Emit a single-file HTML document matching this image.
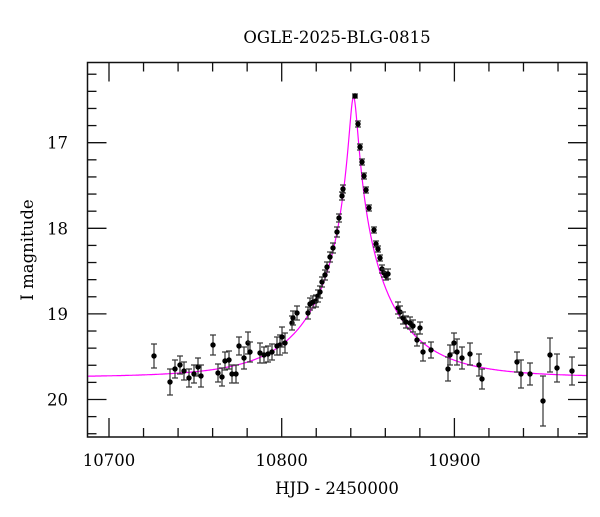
<!DOCTYPE html>
<html><head><meta charset="utf-8"><style>
body{margin:0;background:#fff}
svg text{font-family:"DejaVu Serif","Liberation Serif",serif;fill:#000}
</style></head><body>
<svg id="s" width="600" height="512" xmlns="http://www.w3.org/2000/svg">
<rect x="0" y="0" width="600" height="512" fill="#fff"/>
<text x="337" y="43" font-size="16.5" text-anchor="middle">OGLE-2025-BLG-0815</text>
<text x="337" y="494" font-size="16.5" text-anchor="middle">HJD - 2450000</text>
<text transform="translate(33,250) rotate(-90)" font-size="16.5" text-anchor="middle">I magnitude</text>
<g id="ax" stroke="#111" stroke-width="1.3" fill="none"></g>
<g id="lab" font-size="16.5"></g>
<path id="curve" fill="none" stroke="#ff00ff" stroke-width="1.2"/>
<g id="pts"></g>
<rect x="87.5" y="62.5" width="499.5" height="374.5" fill="none" stroke="#111" stroke-width="1.5"/>
</svg>
<script>
const L=87.5,R=587,T=62.5,B=437;
const X=t=>109+(t-10700)*1.727;
const Y=m=>142.7+(m-17)*85.6;
const ns="http://www.w3.org/2000/svg";
function el(tag,attrs,parent,txt){const e=document.createElementNS(ns,tag);for(const k in attrs)e.setAttribute(k,attrs[k]);if(txt)e.textContent=txt;parent.appendChild(e);return e;}
const ax=document.getElementById('ax'),lab=document.getElementById('lab');
for(let t=10700;t<=10960;t+=20){const x=X(t);const maj=(t%100===0);const len=maj?19:9;
 el('line',{x1:x,y1:B,x2:x,y2:B-len},ax);el('line',{x1:x,y1:T,x2:x,y2:T+len},ax);
 if(maj)el('text',{x:x,y:466,'text-anchor':'middle'},lab,String(t));}
for(let i=0;i<=22;i++){const m=16.2+i*0.2;const y=Y(m);if(y<T||y>B)continue;const maj=Math.abs(m-Math.round(m))<0.01;const len=maj?19:9;
 el('line',{x1:L,y1:y,x2:L+len,y2:y},ax);el('line',{x1:R,y1:y,x2:R-len,y2:y},ax);
 if(maj)el('text',{x:68,y:y+6,'text-anchor':'end'},lab,String(Math.round(m)));}
const t0=10841.6,u0=0.049,tE=46,Ib=19.74;
let d='';for(let px=L;px<=R;px+=0.5){const t=10700+(px-109)/1.727;const u=Math.sqrt(u0*u0+((t-t0)/tE)**2);const A=(u*u+2)/(u*Math.sqrt(u*u+4));const m=Ib-2.5*Math.log10(A);d+=(d?'L':'M')+px.toFixed(1)+','+Y(m).toFixed(1);}
document.getElementById('curve').setAttribute('d',d);
const P=[[154,356,12],[170,382,13],[175,369,9],[180,365,9],[184,371,9],[189,378,9],[194,374,9],[198,367,9],[201,376,11],[213,345,10],[218,373,9],[222,377,9],[225,361,9],[229,360,9],[232,374,9],[236,374,9],[239,346,9],[244,358,11],[248,343,11],[250,352,10],[260,353,10],[264,355,8],[268,354,8],[272,352,8],[277,346,9],[280,345,10],[282,337,10],[285,343,10],[292,323,7],[293,318,7],[297,313,7],[308,313,6],[310,304,6],[313,302,6],[316,301,6],[318,296,6],[320,292,6],[322,282,5],[325,275,5],[327,267,5],[330,257,5],[333,248,5],[337,232,5],[339,218,4],[342,196,4],[343,189,4],
[355,96,2],[358,124,3],[360,147,3],[362,162,3],[364,176,3],[366,190,3],[369,208,3],[374,230,3],[376,244,3],[378,249,3],[380,258,3],[382,269,4],[384,273,4],[386,276,4],[388,274,5],[398,308,6],[400,312,6],[403,318,6],[406,322,6],[410,323,6],[413,326,6],[417,340,6],[420,328,6],[423,352,9],[431,350,8],[448,369,12],[450,355,10],[454,343,10],[457,352,13],[462,358,11],[470,354,11],[479,365,11],[482,379,10],[517,362,10],[521,374,14],[530,374,11],[543,401,25],[550,355,17],[557,368,14],[572,371,14]];
const g=document.getElementById('pts');
for(const [x,y,e] of P){el('line',{x1:x,y1:y-e,x2:x,y2:y+e,stroke:'#333','stroke-width':1.2},g);
 el('line',{x1:x-3,y1:y-e,x2:x+3,y2:y-e,stroke:'#333','stroke-width':1.2},g);
 el('line',{x1:x-3,y1:y+e,x2:x+3,y2:y+e,stroke:'#333','stroke-width':1.2},g);
 el('circle',{cx:x,cy:y,r:2.7,fill:'#000'},g);}
</script>
</body></html>
